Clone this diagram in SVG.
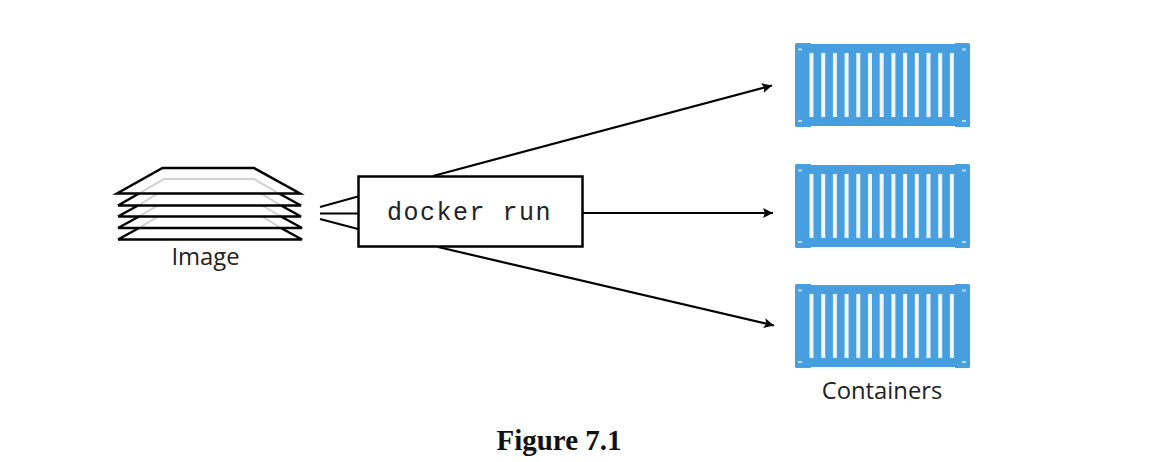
<svg xmlns="http://www.w3.org/2000/svg" width="1151" height="462" viewBox="0 0 1151 462">
<defs>
<marker id="arrow" markerUnits="userSpaceOnUse" markerWidth="12" markerHeight="12" refX="10" refY="5" orient="auto"><path d="M0 0L10 5L0 10L2 5Z" fill="#000"/></marker>
<g id="box">
<path d="M796.500 1H811V2H955V1H968.500Q970 1 970 2.500V83.500Q970 85 968.500 85H955V84H811V85H796.500Q795 85 795 83.500V2.500Q795 1 796.500 1Z" fill="#479fdf"/>
<g class="slats">
<rect x="809.500" y="11" width="4" height="64"/><rect x="821.200" y="11" width="4" height="64"/><rect x="832.900" y="11" width="4" height="64"/><rect x="844.600" y="11" width="4" height="64"/><rect x="856.300" y="11" width="4" height="64"/><rect x="868" y="11" width="4" height="64"/><rect x="879.700" y="11" width="4" height="64"/><rect x="891.400" y="11" width="4" height="64"/><rect x="903.100" y="11" width="4" height="64"/><rect x="914.800" y="11" width="4" height="64"/><rect x="926.500" y="11" width="4" height="64"/><rect x="938.200" y="11" width="4" height="64"/><rect x="949.900" y="11" width="4" height="64"/>
</g>
<g class="holes">
<rect x="798" y="6.500" width="4" height="2"/><rect x="962" y="6.500" width="4" height="2"/><rect x="798" y="78" width="4" height="2"/><rect x="962" y="78" width="4" height="2"/>
</g>
</g>
</defs>
<style>
.slats rect{fill:#eef6fc}
.holes rect{fill:#b9dbf3}
.layer{fill:none;stroke:#000;stroke-width:2.500;stroke-linejoin:miter}
.hidden{fill:none;stroke:#cfcfcf;stroke-width:2}
.conn{fill:none;stroke:#000;stroke-width:2.200}
.label{font-family:"Open Sans","Noto Sans",sans-serif;font-size:23.800px;fill:#222}
</style>
<rect width="1151" height="462" fill="#fff"/>
<g id="image">
<path class="hidden" d="M139 193.500L164 179H254L279 193.500M138 205.500L158 193.500M281 205.500L261 193.500M139 216.500L158 205.500M281 216.500L262 205.500M139 228L158 216.500M281 228L262 216.500"/>
<path class="layer" d="M162.500 168H254L300 193.500H117Z"/>
<path class="layer" d="M118 205.500H301L279 193.500M139 193.500L118 205.500"/>
<path class="layer" d="M118 216.500H301L281 205.500M138 205.500L118 216.500"/>
<path class="layer" d="M118 228H302L281 216.500M139 216.500L118 228"/>
<path class="layer" d="M118 239.500H302L281 228M139 228L118 239.500"/>
<text class="label" x="205.500" y="265" text-anchor="middle">Image</text>
</g>
<g id="connectors">
<path class="conn" d="M320 207L358 196.500M320 213.500H358M320 219L358 229"/>
<path class="conn" marker-end="url(#arrow)" d="M433 176L772 85.500"/>
<path class="conn" marker-end="url(#arrow)" d="M583 213H773"/>
<path class="conn" marker-end="url(#arrow)" d="M438 247L774 325.500"/>
</g>
<g id="docker-run">
<rect x="358.500" y="176.500" width="224" height="70" fill="#fff" stroke="#000" stroke-width="2.500"/>
<text x="387" y="220" font-family="'Liberation Mono',monospace" font-size="25" letter-spacing="1.500" fill="#222">docker run</text>
</g>
<g id="container-1"><use href="#box" y="42"/></g>
<g id="container-2"><use href="#box" y="163"/></g>
<g id="container-3"><use href="#box" y="283"/></g>
<text class="label" x="882" y="399" text-anchor="middle">Containers</text>
<text x="559" y="450" text-anchor="middle" font-family="'Liberation Serif',serif" font-weight="bold" font-size="29" fill="#111">Figure 7.1</text>
</svg>
